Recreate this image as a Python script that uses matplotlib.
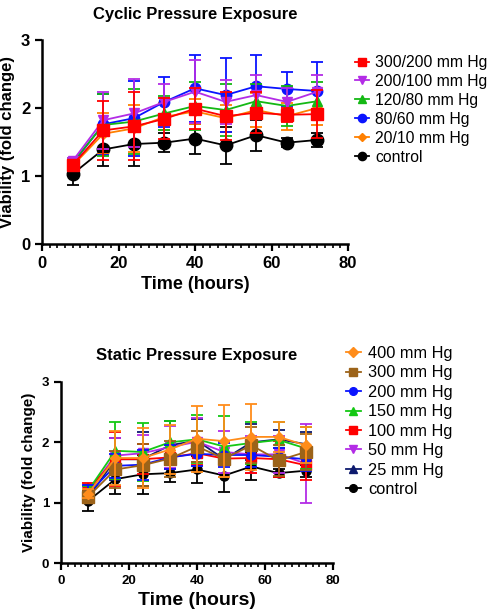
import matplotlib
matplotlib.use("Agg")
import matplotlib.pyplot as plt
from matplotlib.ticker import MultipleLocator
from matplotlib.lines import Line2D

plt.rcParams['font.family'] = ['Liberation Sans', 'DejaVu Sans']

time_h = [8, 16, 24, 32, 40, 48, 56, 64, 72]

# ---- Cyclic pressure exposure ----
cyc_labels = ["300/200 mm Hg", "200/100 mm Hg", "120/80 mm Hg", "80/60 mm Hg", "20/10 mm Hg", "control"]
cyc_300_200 = [1.16, 1.67, 1.73, 1.84, 1.99, 1.88, 1.93, 1.90, 1.91]
cyc_300_200_err = [0.08, 0.43, 0.50, 0.30, 0.30, 0.35, 0.30, 0.10, 0.35]
cyc_200_100 = [1.22, 1.82, 1.92, 2.09, 2.24, 2.09, 2.19, 2.09, 2.24]
cyc_200_100_err = [0.05, 0.42, 0.50, 0.26, 0.46, 0.32, 0.30, 0.20, 0.25]
cyc_120_80 = [1.20, 1.75, 1.80, 1.92, 2.03, 1.97, 2.10, 2.03, 2.10]
cyc_120_80_err = [0.06, 0.45, 0.48, 0.25, 0.35, 0.38, 0.25, 0.30, 0.28]
cyc_80_60 = [1.18, 1.76, 1.85, 2.09, 2.29, 2.19, 2.32, 2.28, 2.25]
cyc_80_60_err = [0.05, 0.45, 0.55, 0.37, 0.49, 0.55, 0.46, 0.25, 0.43]
cyc_20_10 = [1.15, 1.62, 1.70, 1.87, 1.95, 1.85, 1.97, 1.88, 2.00]
cyc_20_10_err = [0.06, 0.30, 0.35, 0.20, 0.18, 0.20, 0.25, 0.20, 0.25]
control = [1.03, 1.39, 1.47, 1.49, 1.55, 1.45, 1.60, 1.49, 1.53]
control_err = [0.16, 0.25, 0.32, 0.14, 0.22, 0.27, 0.23, 0.07, 0.10]

# ---- Static pressure exposure ----
st_labels = ["400 mm Hg", "300 mm Hg", "200 mm Hg", "150 mm Hg", "100 mm Hg", "50 mm Hg", "25 mm Hg", "control"]
st_400 = [1.15, 1.74, 1.74, 1.88, 2.06, 2.02, 2.09, 2.09, 1.95]
st_400_err = [0.08, 0.45, 0.50, 0.40, 0.55, 0.60, 0.55, 0.25, 0.30]
st_300 = [1.10, 1.55, 1.62, 1.73, 1.93, 1.73, 1.95, 1.70, 1.84]
st_300_err = [0.10, 0.30, 0.35, 0.30, 0.25, 0.30, 0.30, 0.25, 0.30]
st_200 = [1.15, 1.61, 1.63, 1.75, 1.81, 1.79, 1.79, 1.76, 1.72]
st_200_err = [0.15, 0.20, 0.25, 0.20, 0.20, 0.20, 0.20, 0.15, 0.20]
st_150 = [1.20, 1.86, 1.84, 2.00, 2.05, 1.93, 1.99, 2.04, 1.90]
st_150_err = [0.08, 0.47, 0.48, 0.35, 0.40, 0.50, 0.35, 0.30, 0.35]
st_100 = [1.22, 1.72, 1.72, 1.75, 1.82, 1.73, 1.74, 1.72, 1.62]
st_100_err = [0.10, 0.45, 0.25, 0.20, 0.20, 0.30, 0.25, 0.30, 0.25]
st_50 = [1.18, 1.78, 1.82, 1.92, 2.01, 1.84, 1.80, 1.80, 1.65]
st_50_err = [0.08, 0.30, 0.30, 0.35, 0.40, 0.35, 0.30, 0.30, 0.65]
st_25 = [1.08, 1.72, 1.72, 1.95, 2.03, 1.72, 2.00, 2.05, 1.97]
st_25_err = [0.08, 0.35, 0.45, 0.40, 0.35, 0.30, 0.30, 0.15, 0.20]

W, H = 492, 615
fig = plt.figure(figsize=(W / 100, H / 100), dpi=100)


def px_axes(l, r, t, b):
    return fig.add_axes([l / W, 1 - b / H, (r - l) / W, (b - t) / H])


def style(ax, tick_fs, lab_fs, ylab_fs, title, title_pad):
    ax.set_xlim(0, 80)
    ax.set_ylim(0, 3)
    for s in ["top", "right"]:
        ax.spines[s].set_visible(False)
    for s in ["left", "bottom"]:
        ax.spines[s].set_linewidth(1.8)
    ax.xaxis.set_major_locator(MultipleLocator(20))
    ax.xaxis.set_minor_locator(MultipleLocator(2))
    ax.yaxis.set_major_locator(MultipleLocator(1))
    ax.tick_params(which="major", length=5, width=1.6, labelsize=tick_fs)
    ax.tick_params(which="minor", length=3, width=1.2)
    for lab in ax.get_xticklabels() + ax.get_yticklabels():
        lab.set_fontweight("bold")
    ax.set_xlabel("Time (hours)", fontsize=lab_fs, fontweight="bold")
    ax.set_ylabel("Viability (fold change)", fontsize=ylab_fs, fontweight="bold")
    ax.set_title(title, fontsize=12, fontweight="bold", pad=title_pad)


def series(ax, y, e, color, marker, ms, z):
    ax.errorbar(time_h, y, yerr=e, color=color, marker=marker, markersize=ms,
                linewidth=1.3, elinewidth=1.3, capsize=4, capthick=1.3,
                zorder=z, clip_on=False)


def handles(data):
    return [Line2D([], [], color=c, marker=m, markersize=min(ms, 7) * 0.85, linewidth=1.3)
            for (_, _, c, m, ms) in data]


# Top chart
ax1 = px_axes(42, 348, 40, 244)
cyc_data = [
    (cyc_300_200, cyc_300_200_err, "#ff0000", "s", 8.5),
    (cyc_200_100, cyc_200_100_err, "#b32ce6", "v", 7.5),
    (cyc_120_80, cyc_120_80_err, "#14b814", "^", 7),
    (cyc_80_60, cyc_80_60_err, "#0a14ff", "o", 7.5),
    (cyc_20_10, cyc_20_10_err, "#ff8000", "D", 5),
    (control, control_err, "#000000", "o", 9),
]
n = len(cyc_data)
for i, (y, e, c, m, ms) in enumerate(cyc_data):
    series(ax1, y, e, c, m, ms, 10 + n - i)
style(ax1, 12, 13, 12, "Cyclic Pressure Exposure", 15)
fig.legend(handles(cyc_data), cyc_labels, loc="upper left",
           bbox_to_anchor=(355 / W, 1 - 55 / H), bbox_transform=fig.transFigure,
           frameon=False, fontsize=11.3, handlelength=0.9, handletextpad=0.4,
           labelspacing=0.25, borderaxespad=0, borderpad=0)

# Bottom chart
ax2 = px_axes(61, 333, 382, 563)
st_data = [
    (st_400, st_400_err, "#ff8c1a", "D", 5.5),
    (st_300, st_300_err, "#9c6319", "s", 9),
    (st_200, st_200_err, "#0a14ff", "o", 6.5),
    (st_150, st_150_err, "#14c814", "^", 6.5),
    (st_100, st_100_err, "#ff0000", "s", 6.5),
    (st_50, st_50_err, "#b32ce6", "v", 6.5),
    (st_25, st_25_err, "#0d1a6e", "^", 6),
    (control, control_err, "#000000", "o", 6.5),
]
n = len(st_data)
for i, (y, e, c, m, ms) in enumerate(st_data):
    series(ax2, y, e, c, m, ms, 10 + n - i)
style(ax2, 9.5, 14, 11, "Static Pressure Exposure", 16)
fig.legend(handles(st_data), st_labels, loc="upper left",
           bbox_to_anchor=(346 / W, 1 - 346 / H), bbox_transform=fig.transFigure,
           frameon=False, fontsize=11.8, handlelength=0.9, handletextpad=0.45,
           labelspacing=0.27, borderaxespad=0, borderpad=0)

fig.savefig("out.png", dpi=100)
